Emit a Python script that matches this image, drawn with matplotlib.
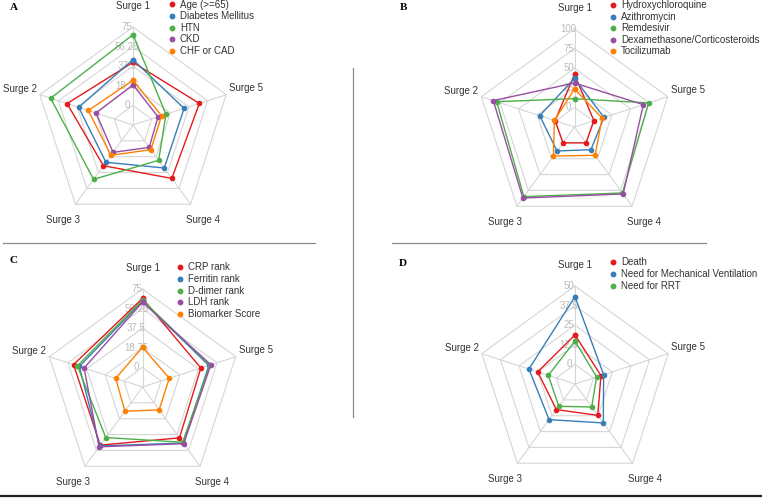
import numpy as np
import matplotlib.pyplot as plt
from matplotlib.lines import Line2D

plt.rcParams['font.family'] = ['Liberation Sans', 'DejaVu Sans']

W, H = 762, 498  # figure size in pixels

surges = ['Surge 1', 'Surge 2', 'Surge 3', 'Surge 4', 'Surge 5']
colors = ['#e41a1c', '#377eb8', '#4daf4a', '#984ea3', '#ff7f00']

# Panel A - comorbidities
a_names = ['Age (>=65)', 'Diabetes Mellitus', 'HTN', 'CKD', 'CHF or CAD']
a_age = [41.2, 47.6, 29.4, 44.4, 48.0]
a_dm = [43.8, 35.9, 25.3, 32.1, 32.6]
a_htn = [67.7, 64.1, 45.5, 23.0, 14.4]
a_ckd = [19.7, 18.5, 13.6, 7.7, 6.4]
a_chf = [24.0, 26.2, 17.1, 10.4, 10.0]
a_ticks = [0, 18.75, 37.5, 56.25, 75]

# Panel B - treatments
b_names = ['Hydroxychloroquine', 'Azithromycin', 'Remdesivir',
           'Dexamethasone/Corticosteroids', 'Tocilizumab']
b_hcq = [42.2, 1.0, 0.0, 0.0, 1.0]
b_azi = [37.1, 21.7, 12.8, 10.7, 14.5]
b_rem = [11.1, 79.4, 84.8, 79.0, 74.5]
b_dex = [31.1, 83.9, 87.0, 80.6, 67.3]
b_toc = [23.5, 2.0, 20.7, 19.7, 12.0]
b_ticks = [0, 25, 50, 75, 100]

# Panel C - biomarkers
c_names = ['CRP rank', 'Ferritin rank', 'D-dimer rank', 'LDH rank', 'Biomarker Score']
c_crp = [66.0, 50.6, 50.0, 41.4, 39.9]
c_fer = [63.4, 44.8, 51.0, 47.5, 48.0]
c_ddi = [64.4, 46.8, 41.0, 46.6, 48.9]
c_ldh = [62.4, 40.0, 52.0, 48.3, 50.0]
c_bio = [19.2, 8.2, 9.9, 8.3, 8.2]
c_ticks = [0, 18.75, 37.5, 56.25, 75]

# Panel D - outcomes
d_names = ['Death', 'Need for Mechanical Ventilation', 'Need for RRT']
d_death = [18.8, 12.5, 7.7, 12.2, 4.9]
d_mv = [43.2, 18.4, 15.6, 18.2, 6.7]
d_rrt = [14.9, 5.4, 5.1, 5.6, 2.0]
d_ticks = [0, 12.5, 25, 37.5, 50]

fig = plt.figure(figsize=(W / 100, H / 100), dpi=100)

# label offsets (points) from the outer vertex of each axis
name_pos = [((0, 15.1), 'center'), ((-2.2, 4.3), 'right'), ((-8.6, -11.5), 'center'),
            ((8.6, -11.5), 'center'), ((2.2, 5.0), 'left')]


def radar(cx, cy, ticks, names, series, letter, letter_xy, leg_xy):
    R = 98
    step = ticks[1] - ticks[0]
    ax = fig.add_axes([(cx - R) / W, 1 - (cy + R) / H, 2 * R / W, 2 * R / H],
                      projection='polar')
    ax.set_theta_offset(np.pi / 2)
    ax.set_ylim(-step, ticks[-1])
    ax.axis('off')
    theta = np.linspace(0, 2 * np.pi, len(surges) + 1)

    # pentagon grid + spokes
    for r in ticks:
        ax.plot(theta, [r] * len(theta), color='#d6d6d6', lw=0.8, zorder=1, clip_on=False)
    for t in theta[:-1]:
        ax.plot([t, t], [-step, ticks[-1]], color='#d6d6d6', lw=0.8, zorder=1, clip_on=False)

    for v in ticks:
        ax.annotate(f'{v:g}', xy=(0, v), xytext=(-4.3, 0), textcoords='offset points',
                    ha='center', va='center', color='#bbbbbb', fontsize=7, zorder=2)

    for t, s, (off, ha) in zip(theta[:-1], surges, name_pos):
        ax.annotate(s, xy=(t, ticks[-1]), xytext=off, textcoords='offset points',
                    ha=ha, va='center', color='#333333', fontsize=7)

    for vals, col in zip(series, colors):
        closed = list(vals) + [vals[0]]
        ax.plot(theta, closed, color=col, lw=1.0, marker='o', markersize=3,
                zorder=3, clip_on=False)

    # legend drawn by hand
    lx, ly = leg_xy
    for i, (nm, col) in enumerate(zip(names, colors)):
        y = 1 - (ly + i * 11.6) / H
        fig.add_artist(Line2D([lx / W], [y], marker='o', markersize=3.2, color=col,
                              linestyle='none'))
        fig.text((lx + 8) / W, y, nm, ha='left', va='center', fontsize=7, color='#333333')

    fig.text(letter_xy[0] / W, 1 - letter_xy[1] / H, letter, family='Liberation Serif',
             fontsize=8, fontweight='bold', ha='center', va='center')


radar(133, 125, a_ticks, a_names, [a_age, a_dm, a_htn, a_ckd, a_chf], 'A', (14, 8), (172, 4.5))
radar(574.5, 127, b_ticks, b_names, [b_hcq, b_azi, b_rem, b_dex, b_toc], 'B', (404, 7), (613, 5))
radar(142.5, 387, c_ticks, c_names, [c_crp, c_fer, c_ddi, c_ldh, c_bio], 'C', (13, 260), (180, 267.3))
radar(575, 384, d_ticks, d_names, [d_death, d_mv, d_rrt], 'D', (403, 263), (613, 262.3))

# separator lines
fig.add_artist(Line2D([3 / W, 315 / W], [1 - 243 / H] * 2, color='#8a8a8a', lw=0.9))
fig.add_artist(Line2D([392 / W, 706 / W], [1 - 243 / H] * 2, color='#8a8a8a', lw=0.9))
fig.add_artist(Line2D([353 / W] * 2, [1 - 68 / H, 1 - 417 / H], color='#8a8a8a', lw=0.9))
fig.add_artist(Line2D([0, 1], [1 - 496 / H] * 2, color='#222222', lw=1.6))

fig.savefig('out.png', dpi=100)
